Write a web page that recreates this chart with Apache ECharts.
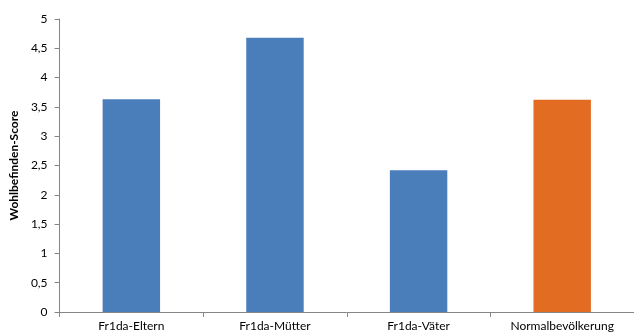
<!DOCTYPE html>
<html>
<head>
<meta charset="utf-8">
<script src="https://cdn.jsdelivr.net/npm/echarts@6/dist/echarts.min.js"></script>
<style>
  html, body { margin: 0; padding: 0; background: #fff; }
  #chart { width: 634px; height: 335px; }
</style>
</head>
<body>
<div id="chart"></div>
<script>
var categories = ['Fr1da-Eltern', 'Fr1da-Mütter', 'Fr1da-Väter', 'Normalbevölkerung'];
var scores = [3.63, 4.68, 2.42, 3.62];
var barColors = ['#4a7ebb', '#4a7ebb', '#4a7ebb', '#e36c23'];

var el = echarts.init(document.getElementById('chart'));
var font = 'Lato, "Open Sans", sans-serif';

var data = [];
for (var i = 0; i < scores.length; i++) {
    data.push({ value: scores[i], itemStyle: { color: barColors[i] } });
}

el.setOption({
    animation: false,
    grid: { left: 58, right: -3, top: 19, bottom: 23 },
    xAxis: {
        type: 'category',
        data: categories,
        axisLine: { lineStyle: { color: '#868686' } },
        axisTick: { show: true, length: 5, lineStyle: { color: '#868686' } },
        axisLabel: { color: '#000', fontFamily: font, fontSize: 12, margin: 8 }
    },
    yAxis: {
        type: 'value',
        min: 0,
        max: 5,
        interval: 0.5,
        name: 'Wohlbefinden-Score',
        nameLocation: 'middle',
        nameGap: 38,
        nameTextStyle: { color: '#000', fontFamily: font, fontSize: 12, fontWeight: 'bold' },
        splitLine: { show: false },
        axisLine: { show: true, lineStyle: { color: '#868686' } },
        axisTick: { show: true, length: 5, lineStyle: { color: '#868686' } },
        axisLabel: {
            color: '#000', fontFamily: font, fontSize: 12, margin: 12,
            formatter: function (v) { return String(v).replace('.', ','); }
        }
    },
    series: [{
        type: 'bar',
        data: data,
        barWidth: '40%'
    }]
});
</script>
</body>
</html>
